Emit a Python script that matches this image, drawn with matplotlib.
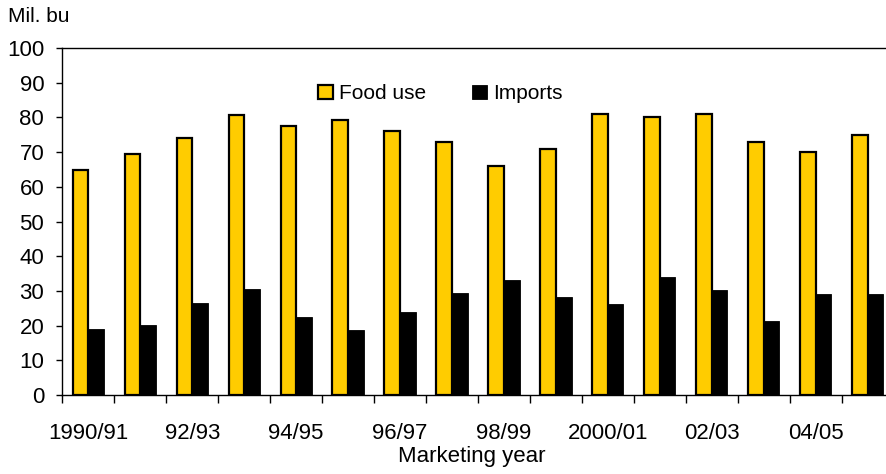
import matplotlib.pyplot as plt
import numpy as np

plt.rcParams['font.family'] = ['Liberation Sans', 'DejaVu Sans']

years = ["1990/91", "91/92", "92/93", "93/94", "94/95", "95/96", "96/97", "97/98",
         "98/99", "99/00", "2000/01", "01/02", "02/03", "03/04", "04/05", "05/06"]
food_use = [64.8, 69.5, 74.0, 80.7, 77.5, 79.3, 76.2, 72.9,
            66.0, 71.0, 81.0, 80.0, 81.0, 73.0, 70.0, 75.0]
imports = [19.1, 20.3, 26.5, 30.6, 22.5, 18.6, 23.9, 29.3,
           33.1, 28.1, 26.1, 34.1, 30.2, 21.2, 29.2, 29.2]

fig = plt.figure(figsize=(8.86, 4.74), dpi=100)
# axes run a little past the right edge of the figure
ax = fig.add_axes([0.0703, 0.1667, 0.9384, 0.732])

x = np.arange(len(years))
w = 0.3
ax.bar(x - w / 2, food_use, w, color="#FFCC00", edgecolor="black",
       linewidth=1.6, label="Food use", zorder=3)
ax.bar(x + w / 2, imports, w, color="black", edgecolor="black",
       linewidth=0.6, label="Imports", zorder=3)

ax.set_xlim(-0.5, len(years) - 0.5)
ax.set_ylim(0, 100)
ax.set_yticks(np.arange(0, 101, 10))

# tick marks between groups, labels on every other group
ax.set_xticks(np.arange(-0.5, len(years), 1))
ax.set_xticklabels([])
ax.set_xticks(x[::2], minor=True)
ax.set_xticklabels(years[::2], minor=True)
ax.tick_params(axis="x", which="major", direction="out", length=6, width=1)
ax.tick_params(axis="x", which="minor", length=0, pad=20, labelsize=16)
ax.tick_params(axis="y", direction="out", length=4, width=1, pad=9, labelsize=16)

for side in ["left", "bottom", "top"]:
    ax.spines[side].set_linewidth(1.0)
ax.spines["right"].set_visible(False)

fig.text(0.009, 0.966, "Mil. bu", fontsize=15, ha="left", va="center")
fig.text(0.533, 0.036, "Marketing year", fontsize=16, ha="center", va="center")

fig.legend(loc="center", bbox_to_anchor=(0.497, 0.802), ncol=2, frameon=False,
           fontsize=15, handlelength=0.7, handleheight=0.7, handletextpad=0.3,
           columnspacing=2.2)

fig.savefig("out.png", dpi=100)
